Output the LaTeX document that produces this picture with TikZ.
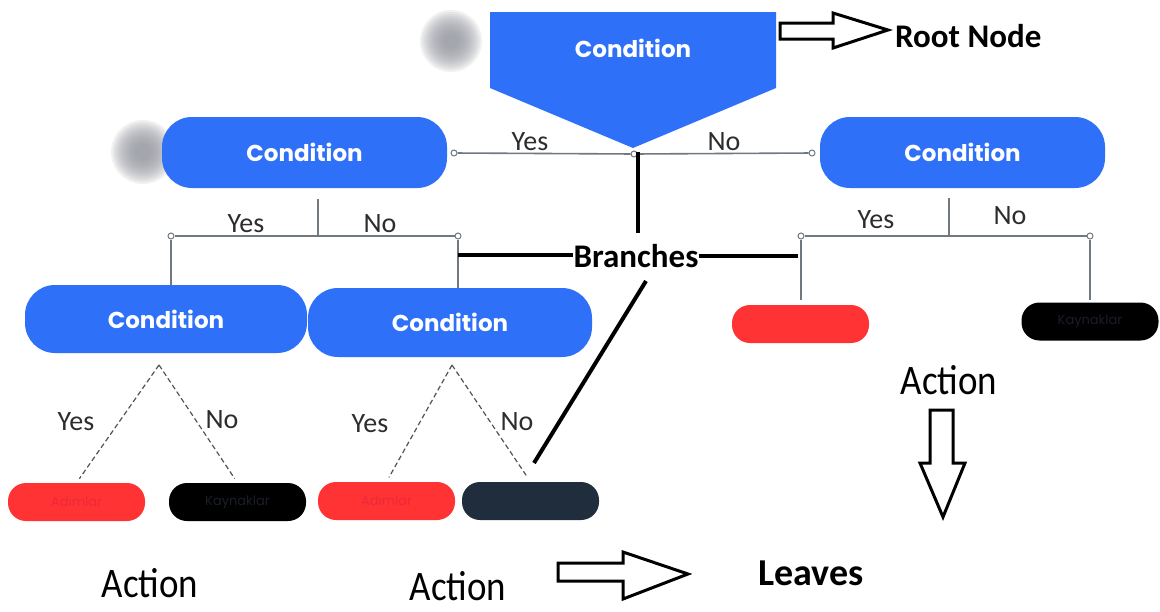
\documentclass[tikz,border=0pt]{standalone}
\usepackage{fontspec}
\setmainfont{Carlito}
\newfontfamily\condfont{Poppins}
\newfontfamily\leaffont{Poppins}
\newfontfamily\actfont{Carlito}[FakeStretch=0.88]
\definecolor{condblue}{RGB}{46,112,248}
\definecolor{leafred}{RGB}{255,51,51}
\definecolor{leafredtxt}{RGB}{236,40,58}
\definecolor{leafnavy}{RGB}{31,45,61}
\definecolor{leafdarktxt}{RGB}{26,30,42}
\definecolor{linegray}{RGB}{112,120,128}
\definecolor{dashgray}{RGB}{80,84,90}
\definecolor{blobgray}{RGB}{150,152,160}
\definecolor{anstext}{RGB}{45,45,45}
\tikzset{
  cond/.style={fill=condblue, rounded corners=30pt, minimum width=285pt, minimum height=71pt,
    inner sep=0pt, text=white, font=\condfont\bfseries\fontsize{23}{23}\selectfont},
  leaf/.style={rounded corners=18pt, minimum width=137pt, minimum height=38pt, inner sep=0pt,
    font=\leaffont\fontsize{13}{13}\selectfont},
  link/.style={draw=linegray, line width=1.6pt},
  dashlink/.style={draw=dashgray, line width=1.2pt, dash pattern=on 5pt off 3pt, shorten >=5pt},
  dot/.style={circle, draw=linegray, fill=white, line width=1pt, inner sep=0pt, minimum size=6pt},
  ans/.style={text=anstext, inner sep=0pt, font=\fontsize{28}{28}\selectfont},
  branch/.style={draw=black, line width=4pt},
  hollow/.style={draw=black, line width=3pt, fill=white, line join=miter},
  note/.style={inner sep=0pt, font=\bfseries\fontsize{33}{33}\selectfont},
  action/.style={inner sep=0pt, font=\actfont\fontsize{42}{42}\selectfont},
}
\begin{document}
\begin{tikzpicture}[x=1pt, y=-1pt]
\useasboundingbox (0,0) rectangle (1160,611);
\fill[white] (0,0) rectangle (1160,611);

% soft grey blobs: stacked translucent discs
\foreach \r in {31,29,...,7} {
  \fill[blobgray, opacity=0.13] (451,41) circle (\r);
  \fill[blobgray, opacity=0.13] (143,152) circle (\r+1);
}

% root condition (downward pentagon)
\fill[condblue] (490,12) -- (776,12) -- (776,88) -- (633,148) -- (490,88) -- cycle;
\node[inner sep=0pt, text=white, font=\condfont\bfseries\fontsize{23}{23}\selectfont] (root) at (633,48) {Condition};

% condition nodes
\node[cond] (c1) at (304.5,152.5) {Condition};
\node[cond] (c2) at (962.5,152.5) {Condition};
\node[cond, minimum width=282pt, minimum height=68pt] (c3) at (166,319) {Condition};
\node[cond, minimum width=284pt, minimum height=69pt] (c4) at (450,322.5) {Condition};

% leaves
\node[leaf, fill=leafred, text=leafredtxt] (l1) at (76.5,502) {Adımlar};
\node[leaf, fill=black, text=leafdarktxt] (l2) at (237.5,502) {Kaynaklar};
\node[leaf, fill=leafred, text=leafredtxt] (l3) at (386.5,501) {Adımlar};
\node[leaf, fill=leafnavy] (l4) at (530.5,501) {};
\node[leaf, fill=leafred] (l5) at (800.5,324) {};
\node[leaf, fill=black, text=leafdarktxt] (l6) at (1090,321.5) {Kaynaklar};

% level 1 connectors
\node[dot] (d1) at (454,153) {};
\node[dot] (d0) at (634,154) {};
\node[dot] (d2) at (812,153) {};
\draw[link] (d1) -- (d0);
\draw[link] (d0) -- (d2);
\node[ans] at (530,142) {Yes};
\node[ans] at (724,142) {No};

% left subtree connectors
\coordinate (j1top) at (318,199);
\coordinate (j1) at (318,236);
\node[dot] (j1a) at (171,236) {};
\node[dot] (j1b) at (458,236) {};
\draw[link] (j1top) -- (j1);
\draw[link] (j1a) -- (j1b);
\draw[link] (j1a) -- (j1a |- c3.north);
\draw[link] (j1b) -- (j1b |- c4.north);
\node[ans] at (246,224) {Yes};
\node[ans] at (380,224) {No};

% right subtree connectors
\coordinate (j2top) at (949,198);
\coordinate (j2) at (949,236);
\node[dot] (j2a) at (801,236) {};
\node[dot] (j2b) at (1090,236) {};
\draw[link] (j2top) -- (j2);
\draw[link] (j2a) -- (j2b);
\draw[link, shorten >=5pt] (j2a) -- (j2a |- l5.north);
\draw[link, shorten >=2pt] (j2b) -- (j2b |- l6.north);
\node[ans] at (876,220) {Yes};
\node[ans] at (1010,216) {No};

% dashed links to leaves
\coordinate (a3) at (159,365);
\coordinate (a4) at (452,365);
\draw[dashlink] (a3) -- (l1.north);
\draw[dashlink] (a3) -- (l2.north);
\draw[dashlink] (a4) -- (l3.north);
\draw[dashlink] (a4) -- (l4.north);
\node[ans] at (76,422) {Yes};
\node[ans] at (222,420) {No};
\node[ans] at (370,424) {Yes};
\node[ans] at (517,422) {No};

% annotations
\node[note, anchor=base west] (rootlbl) at (895,47) {Root Node};
\draw[hollow] (780,23) -- (833,23) -- (833,13) -- (888,30) -- (833,48) -- (833,39) -- (780,39) -- cycle;

\node[note, anchor=base] (br) at (636,267) {Branches};
\coordinate (bV1) at (638,152);
\coordinate (bV2) at (638,233);
\coordinate (bL) at (458,255);
\coordinate (bR) at (798,256);
\coordinate (bD1) at (646,281);
\coordinate (bD2) at (534,463);
\draw[branch] (bV1) -- (bV2);
\draw[branch] (bL) -- (bL -| br.west);
\draw[branch] (bR -| br.east) -- (bR);
\draw[branch] (bD1) -- (bD2);

\node[action, anchor=base] (act1) at (949,394) {Action};
\draw[hollow] (930,410) -- (953,410) -- (953,463) -- (965,463) -- (943,517) -- (920,463) -- (930,463) -- cycle;
\node[action, anchor=base] (act2) at (150,597) {Action};
\node[action, anchor=base] (act3) at (458,600) {Action};

\draw[hollow] (558,563) -- (623,563) -- (623,552) -- (688,574) -- (623,599) -- (623,581) -- (558,581) -- cycle;
\node[note, anchor=base, font=\bfseries\fontsize{38}{38}\selectfont] (lv) at (811,585) {Leaves};
\end{tikzpicture}
\end{document}
